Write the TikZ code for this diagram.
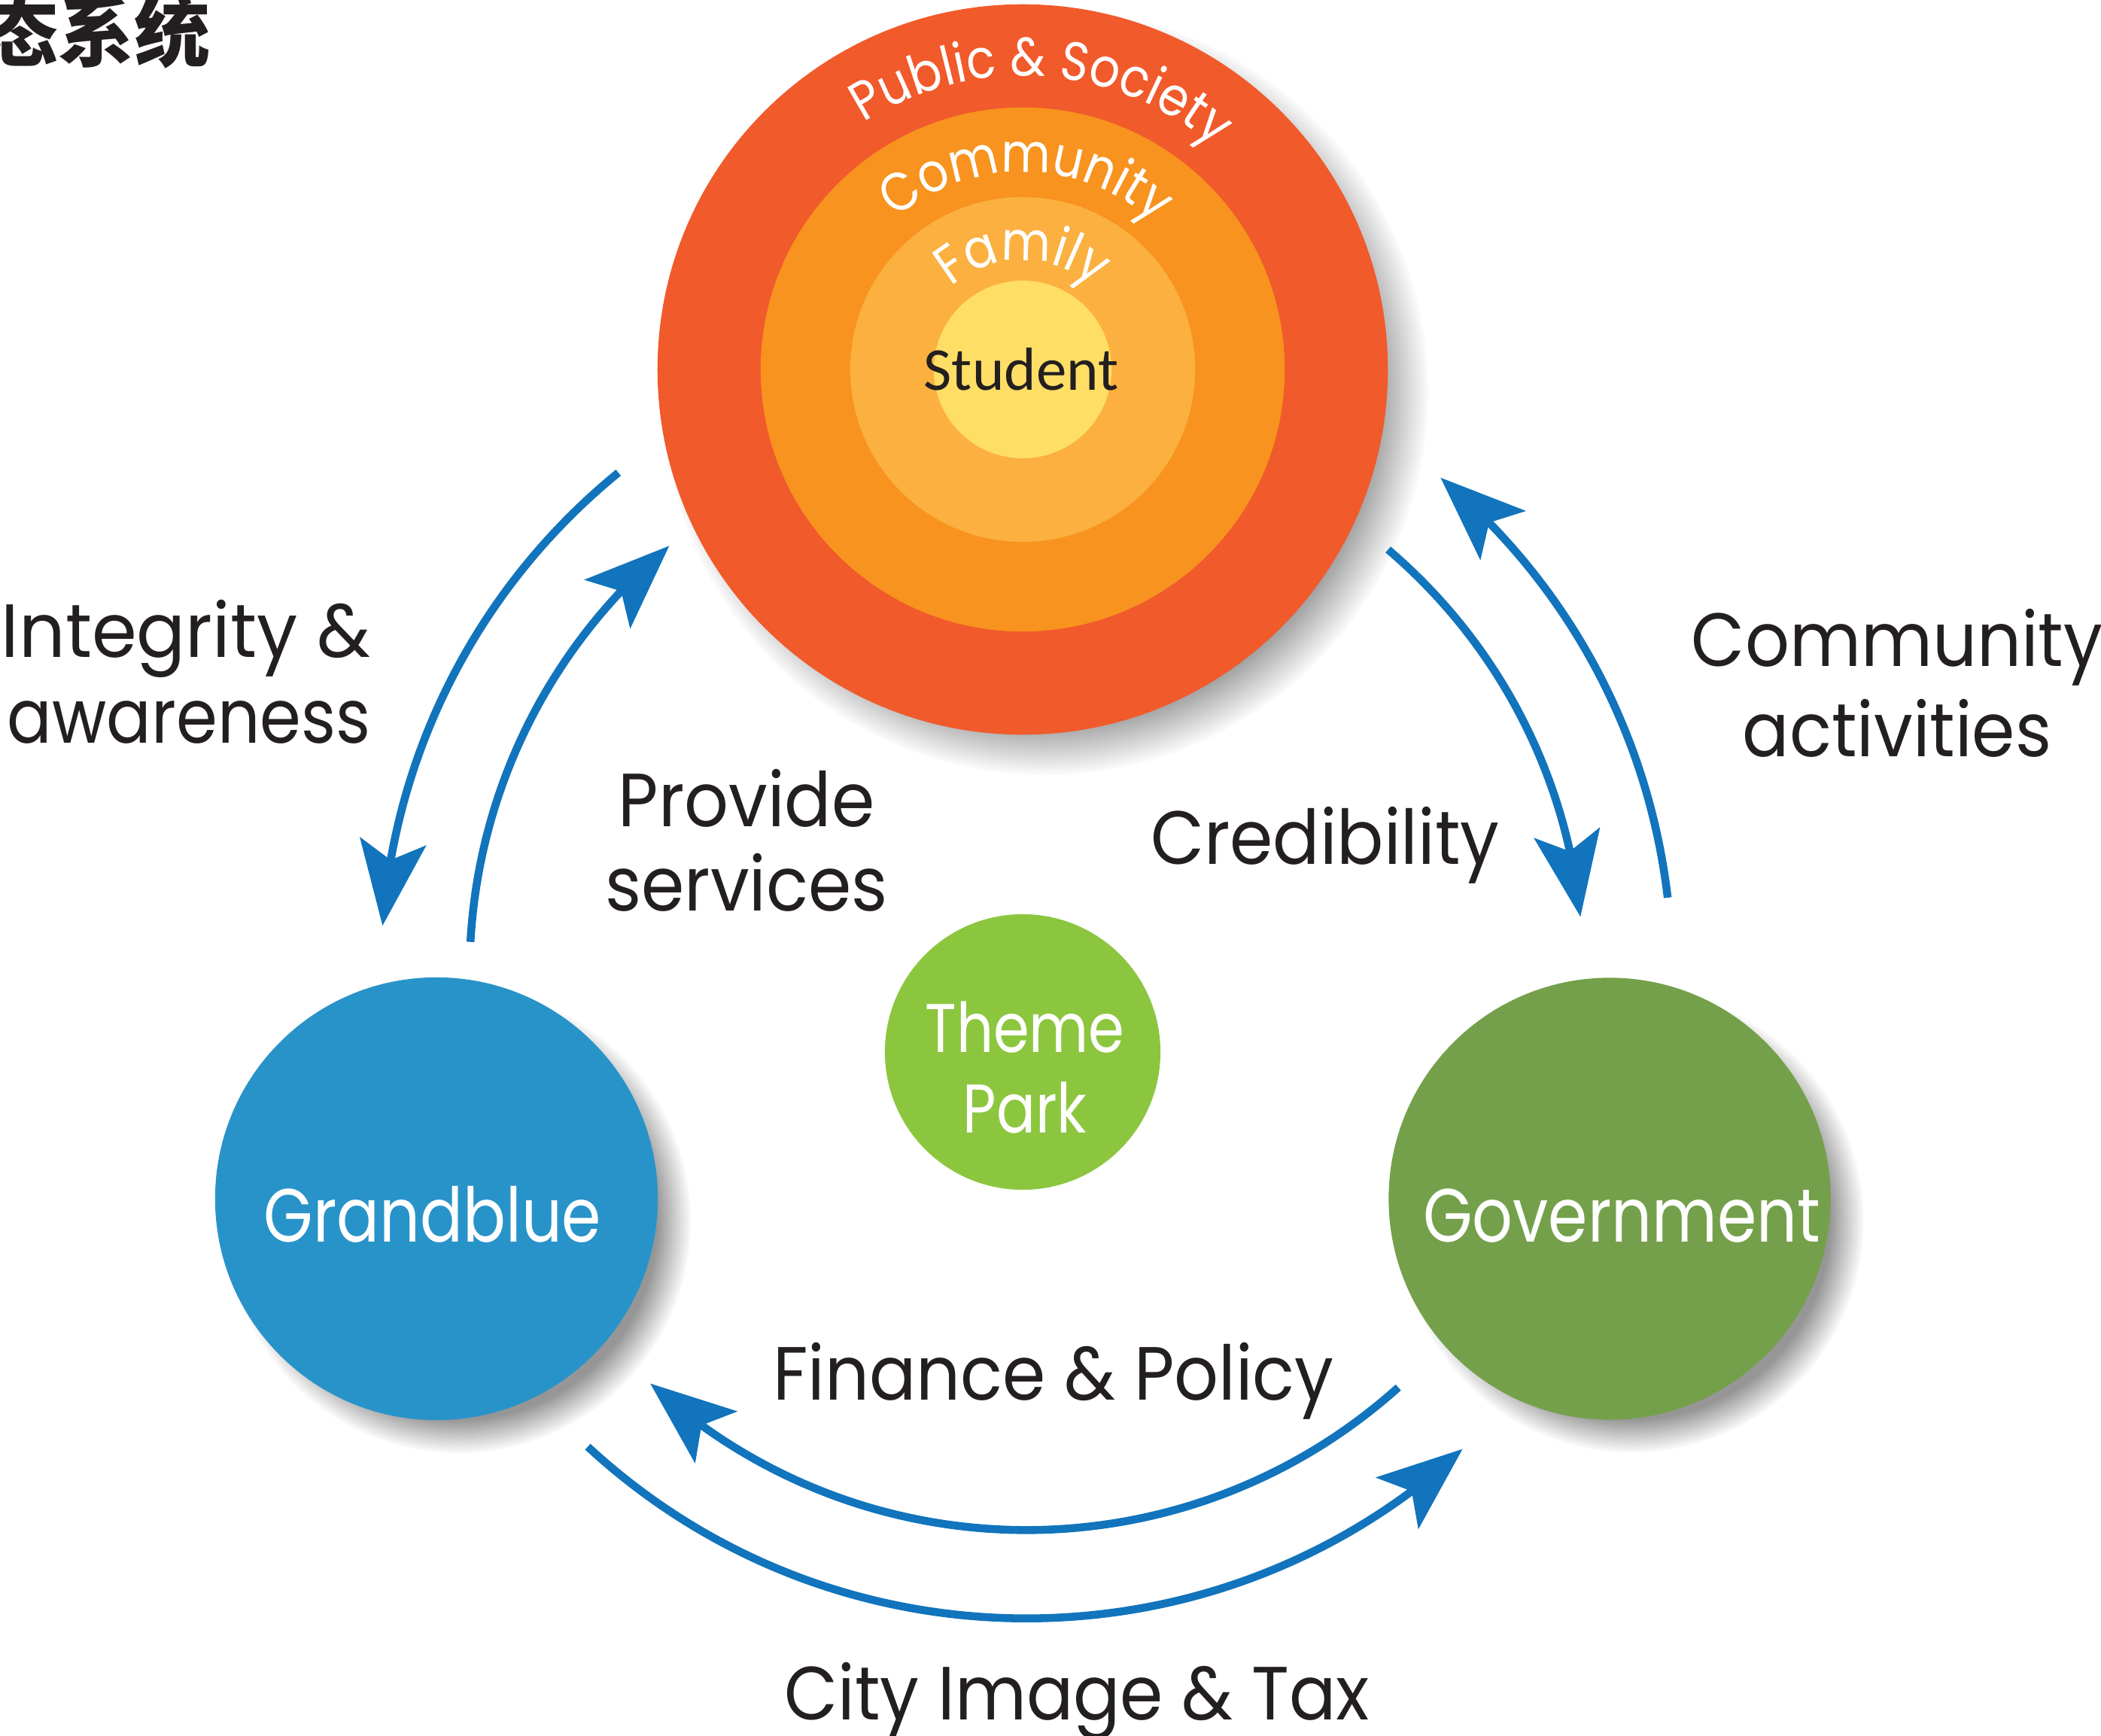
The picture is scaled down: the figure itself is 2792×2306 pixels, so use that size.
\documentclass[tikz,border=0pt]{standalone}
\usepackage{fontspec}
\setmainfont{Poppins}
\newfontfamily\labfam[FakeStretch=0.92]{Poppins}
\newfontfamily\widefam[FakeStretch=0.96]{Poppins}
\newfontfamily\narrowfam[FakeStretch=0.88]{Poppins}
\newfontfamily\whfam[FakeStretch=0.84]{Poppins}
\newfontfamily\arcfam[FakeStretch=0.88]{Poppins}
\newfontfamily\stufam{Carlito}
\newfontfamily\cjkfam{Noto Sans CJK SC}
\usetikzlibrary{arrows.meta,bending,decorations.text,shadows,fadings,calc}
\definecolor{pubc}{HTML}{F15A2B}
\definecolor{comc}{HTML}{F7931E}
\definecolor{famc}{HTML}{FBB040}
\definecolor{stuc}{HTML}{FFDE66}
\definecolor{gbc}{HTML}{2893C9}
\definecolor{govc}{HTML}{74A04B}
\definecolor{tpc}{HTML}{8CC63F}
\definecolor{arrc}{HTML}{1174BC}
\definecolor{ink}{HTML}{231F20}
\newcommand\arcfont{\arcfam\fontsize{20.5}{22}\selectfont}
\begin{document}
\begin{tikzpicture}[x=0.01cm,y=-0.01cm,
  lbl/.style={font=\labfam\fontsize{28.5}{30}\selectfont, text=ink, inner sep=0pt, anchor=base},
  wlbl/.style={font=\whfam\fontsize{28.5}{30}\selectfont, text=white, inner sep=0pt, anchor=base},
  tplbl/.style={font=\whfam\fontsize{26}{28}\selectfont, text=white, inner sep=0pt, anchor=base},
  disc/.style={circle, inner sep=0pt, draw=none},
  softshadow/.style={circular drop shadow={shadow xshift=0.28cm, shadow yshift=-0.28cm, shadow scale=1.05, opacity=0.75, fill=black!55}},
  flow/.style={draw=arrc, line width=3pt, -{Stealth[length=32pt,width=25pt,inset=7pt]}},
  arctext/.style={decorate, decoration={text along path, text align=center, text={|\arcfont\color{white}|#1}}}
]
\useasboundingbox (0,0) rectangle (2792,2306);
\clip (0,0) rectangle (2792,2306);

% title (cut off at the page edge)
\node[anchor=base west, inner sep=0pt, font=\cjkfam\bfseries\fontsize{28.7}{30}\selectfont, text=ink] (title) at (-24,81) {态系统};

% concentric circles
\node[disc, fill=pubc, minimum size=9.70cm, softshadow] (pub) at (1359,491) {};
\node[disc, fill=comc, minimum size=6.96cm] (com) at (pub.center) {};
\node[disc, fill=famc, minimum size=4.58cm] (fam) at (pub.center) {};
\node[disc, fill=stuc, minimum size=2.36cm] (stu) at (pub.center) {};
\node[inner sep=0pt, anchor=base, font=\stufam\fontsize{23}{24}\selectfont, text=ink] (stut) at (1357,518) {Student};

\path[arctext={Public {\&} Society}] ([shift={(-176:390)}]pub.center) arc[start angle=-176, end angle=4, radius=390];
\path[arctext={Community}] ([shift={(-179:262)}]pub.center) arc[start angle=-179, end angle=1, radius=262];
\path[arctext={Family}] ([shift={(-180:145)}]pub.center) arc[start angle=-180, end angle=0, radius=145];

% actor circles
\node[disc, fill=gbc, minimum size=5.88cm, softshadow] (gb) at (580,1593) {};
\node[disc, fill=govc, minimum size=5.87cm, softshadow] (gv) at (2139,1593) {};
\node[disc, fill=tpc, minimum size=3.66cm] (tp) at (1359,1398) {};

\node[wlbl] (gbt) at (575,1650) {Grandblue};
\node[wlbl] (gvt) at (2155,1650) {Government};
\node[tplbl] (tpa) at (1362,1398) {Theme};
\node[tplbl] (tpb) at (1362,1505) {Park};

% arrows on two concentric circles round O
\coordinate (O) at (1364,1293);
\coordinate (aw1) at ([shift={(-129.2:858)}]O);
\coordinate (aw2) at ([shift={(-175.8:858)}]O);
\coordinate (ps1) at ([shift={(-176.8:740)}]O);
\coordinate (ps2) at ([shift={(-129.9:740)}]O);
\coordinate (cr1) at ([shift={(-49.5:740)}]O);
\coordinate (cr2) at ([shift={(-5.8:740)}]O);
\coordinate (ca1) at ([shift={(-6.7:858)}]O);
\coordinate (ca2) at ([shift={(-50.1:858)}]O);
\coordinate (fp1) at ([shift={(48.1:740)}]O);
\coordinate (fp2) at ([shift={(132.5:740)}]O);
\coordinate (ct1) at ([shift={(132.8:858)}]O);
\coordinate (ct2) at ([shift={(47.5:858)}]O);

\draw[flow] (aw1) to[bend right=23.3, looseness=0.89] (aw2);
\draw[flow] (ps1) to[bend left=23.45, looseness=0.89] (ps2);
\draw[flow] (cr1) to[bend left=21.85, looseness=0.89] (cr2);
\draw[flow] (ca1) to[bend right=21.7, looseness=0.89] (ca2);
\draw[flow] (fp1) to[bend left=42.2, looseness=0.98] (fp2);
\draw[flow] (ct1) to[bend right=42.65, looseness=0.98] (ct2);

% labels
\node[lbl, font=\widefam\fontsize{28.5}{30}\selectfont, anchor=base east] (awa) at (493,873) {Integrity \&};
\node[lbl, font=\narrowfam\fontsize{28.5}{30}\selectfont, anchor=base east] (awb) at (493,987) {awareness};
\node[lbl] (psa) at (992,1098) {Provide};
\node[lbl] (psb) at (992,1210) {services};
\node[lbl] (crt) at (1761,1148) {Credibility};
\node[lbl] (caa) at (2521,885) {Community};
\node[lbl] (cab) at (2521,1005) {activities};
\node[lbl] (fpt) at (1400,1860) {Finance \& Policy};
\node[lbl] (ctt) at (1431,2285) {City Image \& Tax};
\end{tikzpicture}
\end{document}
